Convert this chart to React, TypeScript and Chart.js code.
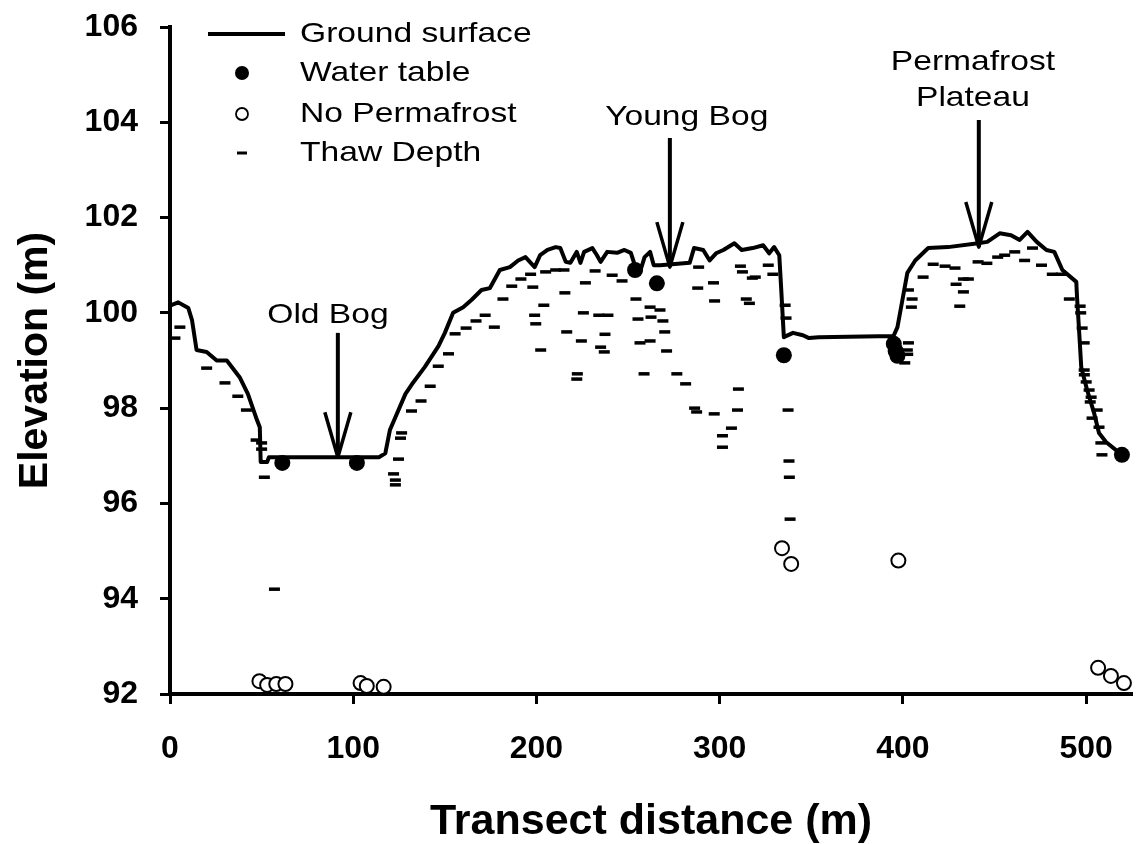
import React, { useEffect, useRef } from "react";
import { Chart, registerables } from "chart.js";

Chart.register(...registerables);

const FONT = '"Liberation Sans", Arial, Helvetica, sans-serif';

// Ground surface profile (transect distance m, elevation m)
const groundX = [0, 4.5, 10, 12, 14.5, 20, 25.5, 31, 38, 42.5, 47, 49, 49.5, 53, 54, 114, 117.5, 120, 128.5, 132, 139, 146.5, 150, 154.5, 160, 164.5, 170, 174.6, 180, 185.5, 190, 194, 199, 202, 206, 210.5, 213, 216, 218.5, 222, 224, 226, 230.5, 233, 235, 238.6, 244, 248, 251.5, 254, 256.5, 259, 262, 264, 267.5, 283.6, 286, 291, 294.5, 298, 302, 308, 312, 318, 323.7, 327, 329.7, 332.5, 333.5, 335, 340, 345.4, 348.7, 354, 386.7, 394.8, 397, 399.7, 402.4, 406.7, 413.8, 424.6, 441, 446, 452.8, 459, 463.7, 468, 473, 478.3, 482.6, 487, 494.6, 495, 496.2, 497.3, 500.5, 504.3, 507, 510.8, 519.5];
const groundY = [100.15, 100.22, 100.1, 99.85, 99.22, 99.18, 99.0, 99.0, 98.65, 98.3, 97.8, 97.6, 96.87, 96.87, 96.97, 96.97, 97.05, 97.54, 98.3, 98.5, 98.86, 99.3, 99.58, 100.0, 100.12, 100.27, 100.48, 100.52, 100.9, 100.96, 101.1, 101.17, 100.96, 101.21, 101.32, 101.38, 101.36, 101.07, 101.05, 101.28, 101.05, 101.28, 101.36, 101.21, 101.07, 101.28, 101.26, 101.32, 101.26, 100.96, 100.86, 101.17, 101.28, 101.0, 101.0, 101.05, 101.36, 101.32, 101.1, 101.25, 101.32, 101.46, 101.32, 101.36, 101.42, 101.25, 101.38, 101.21, 100.54, 99.49, 99.58, 99.53, 99.47, 99.49, 99.51, 99.51, 99.7, 100.27, 100.84, 101.1, 101.36, 101.38, 101.46, 101.49, 101.67, 101.63, 101.53, 101.7, 101.49, 101.32, 101.28, 100.9, 100.65, 100.33, 99.58, 98.86, 98.38, 97.9, 97.48, 97.29, 97.02];

// Water table (filled circles)
const waterX = [61.3, 102, 253.8, 265.7, 335, 395, 396, 397, 519.5];
const waterY = [96.85, 96.85, 100.9, 100.62, 99.11, 99.35, 99.2, 99.1, 97.02];

// No permafrost (open circles)
const noPermX = [48.8, 53, 58, 63, 104, 107.4, 116.6, 334, 339, 397.5, 506.5, 513.5, 520.6];
const noPermY = [92.27, 92.19, 92.21, 92.21, 92.23, 92.17, 92.15, 95.06, 94.73, 94.8, 92.55, 92.38, 92.23];

// Thaw depth (dashes)
const thawX = [2.7, 5.4, 20, 30, 37, 41.7, 47, 50, 50, 51.5, 57,
  122, 123, 123, 124.7, 125.8, 126.4, 131.8, 137, 142, 146.4, 152, 155.6, 161.6, 167, 172, 177, 181.7, 186.5, 191.5, 196.8, 198, 199, 199.6, 202.3, 204, 205, 210.5, 215, 215.5, 216.5, 222, 222.3, 224.5, 225.6, 226.7, 232, 234, 239, 235, 237, 237.4, 241.3, 246.7, 254.3, 255.4, 256.5, 258.7, 262, 262.5, 262, 267.4, 269, 270, 271, 276.6, 281.4, 286.3, 287.4, 297, 301.5, 301.5, 306.4, 309.7, 310.2, 288, 288.5, 296.6, 297.2, 311.3, 312.4, 314.5, 316.2, 317.8, 319.4, 326.5, 329, 335.7, 336.2, 337.3, 337.8, 338, 338.4,
  401, 402.4, 402.6, 403, 403, 404.6, 405, 411, 416.5, 423, 428.4, 429, 431, 433, 433, 435.7, 441, 445.8, 451.7, 455.5, 461, 466.4, 470.7, 475.6, 481.5, 486.4, 490.8, 496.7, 497, 497.8, 498.9, 498.9, 499, 500, 501.6, 502.2, 502.7, 503.2, 506, 507, 508, 508.6];
const thawY = [99.47, 99.7, 98.84, 98.53, 98.25, 97.96, 97.33, 97.27, 97.14, 96.55, 94.2,
  96.62, 96.49, 96.39, 96.93, 97.37, 97.48, 97.94, 98.15, 98.46, 98.88, 99.14, 99.56, 99.68, 99.83, 99.95, 99.7, 100.29, 100.56, 100.71, 100.81, 100.54, 99.95, 99.77, 99.22, 100.16, 100.86, 100.9, 100.9, 100.42, 99.6, 98.61, 98.72, 99.41, 100.0, 100.63, 100.88, 99.95, 99.95, 99.28, 99.18, 99.55, 100.79, 100.67, 100.29, 99.87, 99.37, 98.72, 100.12, 99.91, 99.41, 100.06, 99.83, 99.6, 99.2, 98.72, 98.51, 98.0, 97.92, 97.88, 97.42, 97.18, 97.58, 97.96, 98.4, 100.52, 100.96, 100.63, 100.25, 100.98, 100.86, 100.29, 100.2, 100.73, 100.75, 101.0, 100.81, 100.16, 99.89, 97.96, 96.89, 96.55, 95.67,
  98.95, 99.22, 99.13, 99.37, 100.48, 100.12, 100.29, 100.75, 101.02, 100.98, 100.94, 100.6, 100.14, 100.71, 100.44, 100.71, 101.07, 101.04, 101.17, 101.21, 101.28, 101.1, 101.36, 101.0, 100.81, 100.81, 100.29, 100.14, 100.0, 99.68, 99.37, 98.8, 98.7, 98.55, 98.38, 98.13, 98.23, 97.79, 97.96, 97.6, 97.27, 97.02];

const xTicks = [0, 100, 200, 300, 400, 500];
const yTicks = [92, 94, 96, 98, 100, 102, 104, 106];

const legendLabels = ["Ground surface", "Water table", "No Permafrost", "Thaw Depth"];

// Annotated features: arrow at x from tailY down to tipY (data units)
const arrowX = [91.6, 272.8, 441.4];
const arrowTail = [99.58, 103.67, 104.05];
const arrowTip = [96.97, 100.96, 101.38];
const labelText = ["Old Bog", "Young Bog", "Permafrost", "Plateau"];
const labelX = [86.2, 282, 438.2, 438.2];
const labelY = [99.95, 104.11, 105.26, 104.51];

const zip = (xs: number[], ys: number[]) => xs.map((x, i) => ({ x, y: ys[i] }));

const overlayPlugin = {
  id: "overlay",
  afterDatasetsDraw(chart: any) {
    const { ctx, chartArea, scales } = chart;
    const xs = scales.x;
    const ys = scales.y;
    ctx.save();
    ctx.strokeStyle = "#000";
    ctx.fillStyle = "#000";
    ctx.lineJoin = "round";
    ctx.lineCap = "butt";
    arrowX.forEach((ax, i) => {
      const px = xs.getPixelForValue(ax);
      const ty = ys.getPixelForValue(arrowTail[i]);
      const hy = ys.getPixelForValue(arrowTip[i]);
      ctx.lineWidth = 4;
      ctx.beginPath();
      ctx.moveTo(px, ty);
      ctx.lineTo(px, hy);
      ctx.stroke();
      ctx.lineWidth = 3.5;
      ctx.beginPath();
      ctx.moveTo(px - 13, hy - 45);
      ctx.lineTo(px, hy);
      ctx.lineTo(px + 13, hy - 45);
      ctx.stroke();
    });
    ctx.font = `28px ${FONT}`;
    ctx.textAlign = "center";
    ctx.textBaseline = "middle";
    labelText.forEach((t, i) => {
      const px = xs.getPixelForValue(labelX[i]);
      const py = ys.getPixelForValue(labelY[i]);
      ctx.save();
      ctx.translate(px, py);
      ctx.scale(1.2, 1);
      ctx.fillText(t, 0, 0);
      ctx.restore();
    });
    // legend
    const lx = chartArea.left;
    const ly = chartArea.top;
    const rows = [7, 46, 87, 126];
    const mx = lx + 72;
    ctx.lineWidth = 4;
    ctx.beginPath();
    ctx.moveTo(lx + 38, ly + rows[0]);
    ctx.lineTo(lx + 115, ly + rows[0]);
    ctx.stroke();
    ctx.beginPath();
    ctx.arc(mx, ly + rows[1], 7, 0, Math.PI * 2);
    ctx.fill();
    ctx.lineWidth = 1.8;
    ctx.beginPath();
    ctx.arc(mx, ly + rows[2], 6, 0, Math.PI * 2);
    ctx.stroke();
    ctx.lineWidth = 3;
    ctx.beginPath();
    ctx.moveTo(mx - 5, ly + rows[3]);
    ctx.lineTo(mx + 5, ly + rows[3]);
    ctx.stroke();
    ctx.textAlign = "left";
    legendLabels.forEach((t, i) => {
      ctx.save();
      ctx.translate(lx + 130, ly + rows[i]);
      ctx.scale(1.2, 1);
      ctx.fillText(t, 0, 0);
      ctx.restore();
    });
    ctx.restore();
  },
};

export default function App() {
  const ref = useRef<HTMLCanvasElement | null>(null);
  useEffect(() => {
    if (!ref.current) return;
    const chart = new Chart(ref.current, {
      type: "scatter",
      data: {
        datasets: [
          {
            label: "Ground surface",
            data: zip(groundX, groundY),
            showLine: true,
            borderColor: "#000",
            borderWidth: 4,
            borderJoinStyle: "round",
            pointRadius: 0,
            tension: 0,
            fill: false,
            order: 3,
          } as any,
          {
            label: "Thaw Depth",
            data: zip(thawX, thawY),
            pointStyle: "line",
            pointRadius: 5.5,
            pointBorderWidth: 3.5,
            pointBorderColor: "#000",
            pointBackgroundColor: "#000",
            showLine: false,
            clip: false,
            order: 2,
          } as any,
          {
            label: "Water table",
            data: zip(waterX, waterY),
            pointStyle: "circle",
            pointRadius: 8,
            pointBorderWidth: 0,
            pointBackgroundColor: "#000",
            pointBorderColor: "#000",
            showLine: false,
            clip: false,
            order: 1,
          } as any,
          {
            label: "No Permafrost",
            data: zip(noPermX, noPermY),
            pointStyle: "circle",
            pointRadius: 7,
            pointBorderWidth: 2,
            pointBackgroundColor: "#fff",
            pointBorderColor: "#000",
            showLine: false,
            clip: false,
            order: 0,
          } as any,
        ],
      },
      options: {
        responsive: false,
        animation: false,
        events: [],
        layout: { padding: { top: 27, right: 3, left: 0, bottom: 0 } },
        plugins: {
          legend: { display: false },
          tooltip: { enabled: false },
        },
        scales: {
          x: {
            type: "linear",
            min: 0,
            max: 525,
            afterBuildTicks: (s: any) => {
              s.ticks = xTicks.map((v) => ({ value: v }));
            },
            afterFit: (s: any) => {
              s.height = 150;
              s.paddingLeft = 0;
              s.paddingRight = 0;
            },
            grid: {
              display: true,
              drawOnChartArea: false,
              drawTicks: true,
              tickLength: 10,
              tickWidth: 3,
              tickColor: "#000",
            },
            border: { display: true, color: "#000", width: 4 },
            ticks: {
              color: "#000",
              padding: 26,
              maxRotation: 0,
              font: { family: FONT, size: 32, weight: "bold" },
            },
            title: {
              display: true,
              text: "Transect distance (m)",
              color: "#000",
              font: { family: FONT, size: 43, weight: "bold", lineHeight: 1 },
              padding: { top: 0, bottom: 0 },
            },
          },
          y: {
            type: "linear",
            min: 92,
            max: 106,
            afterBuildTicks: (s: any) => {
              s.ticks = yTicks.map((v) => ({ value: v }));
            },
            afterFit: (s: any) => {
              s.width = 170;
              s.paddingTop = 0;
              s.paddingBottom = 0;
            },
            grid: {
              display: true,
              drawOnChartArea: false,
              drawTicks: true,
              tickLength: 10,
              tickWidth: 3,
              tickColor: "#000",
            },
            border: { display: true, color: "#000", width: 4 },
            ticks: {
              color: "#000",
              padding: 22,
              font: { family: FONT, size: 32, weight: "bold" },
            },
            title: {
              display: true,
              text: "Elevation (m)",
              color: "#000",
              font: { family: FONT, size: 41, weight: "bold", lineHeight: 1 },
              padding: { top: 15, bottom: 0 },
            },
          },
        },
      } as any,
      plugins: [overlayPlugin],
    });
    return () => chart.destroy();
  }, []);
  return (
    <div style={{ position: "fixed", left: 0, top: 0, width: 1141, height: 844, background: "#fff" }}>
      <canvas ref={ref} width={1141} height={844} style={{ display: "block", width: 1141, height: 844 }} />
    </div>
  );
}
